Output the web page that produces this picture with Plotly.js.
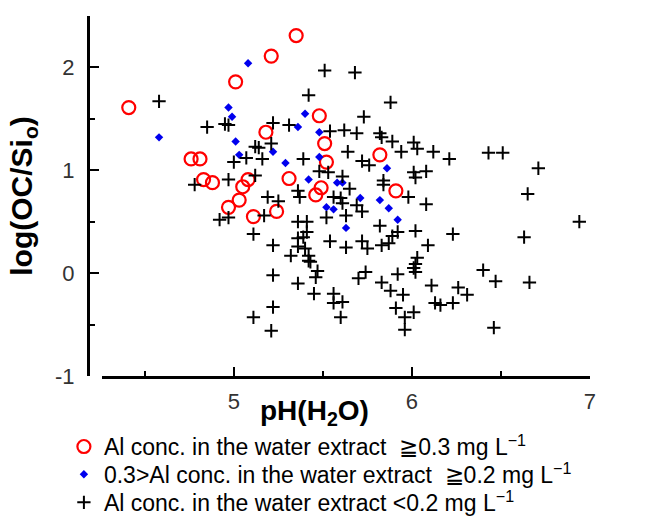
<!DOCTYPE html>
<html>
<head>
<meta charset="utf-8">
<script src="https://cdn.plot.ly/plotly-3.0.1.min.js"></script>
<style>html,body{margin:0;padding:0;background:#fff;}#chart{width:653px;height:516px;}</style>
</head>
<body>
<div id="chart"></div>
<script>
// Al conc. >= 0.3 mg/L (red open circles)
const redPH  = [4.41, 5.35, 5.21, 5.01, 5.48, 5.18, 4.76, 4.81, 4.83, 4.88, 5.08, 5.05, 5.03, 4.97, 5.11, 5.24, 5.31, 5.51, 5.52, 5.49, 5.46, 5.82, 5.91];
const redLog = [1.61, 2.31, 2.11, 1.86, 1.53, 1.37, 1.11, 1.11, 0.91, 0.88, 0.91, 0.84, 0.71, 0.64, 0.55, 0.60, 0.92, 1.26, 1.08, 0.83, 0.76, 1.15, 0.80];

// 0.3 > Al conc. >= 0.2 mg/L (blue diamonds)
const bluePH  = [5.08, 4.58, 4.97, 4.99, 5.01, 5.03, 5.22, 5.29, 5.36, 5.40, 5.48, 5.48, 5.42, 5.52, 5.58, 5.61, 5.56, 5.71, 5.82, 5.87, 5.92, 5.86, 5.63];
const blueLog = [2.04, 1.32, 1.61, 1.52, 1.28, 1.15, 1.18, 1.07, 1.42, 1.55, 1.37, 1.13, 0.91, 0.64, 0.88, 0.88, 0.62, 0.73, 0.71, 0.63, 0.52, 1.02, 0.44];

// Al conc. < 0.2 mg/L (black crosses)
const blackPH = [
  4.58, 4.85, 4.95, 4.97, 5.42, 5.51, 5.68, 5.88, 5.22, 5.31,
  5.12, 5.14, 5.21, 5.00, 5.07, 5.16, 5.39, 4.78, 4.97, 5.12,
  5.19, 5.25, 5.36, 5.37, 4.92, 4.97, 5.17, 5.11, 5.22, 5.36,
  5.41, 5.36, 5.39, 5.41, 5.52, 5.63, 5.48, 5.54, 5.62, 5.69,
  5.73, 5.82, 5.83, 5.89, 6.01, 6.03, 5.64, 5.72, 5.76, 5.94,
  6.12, 6.21, 6.43, 6.51, 6.71, 5.53, 5.61, 5.84, 5.84, 6.01,
  6.02, 6.08, 5.65, 5.56, 5.60, 5.61, 5.69, 5.72, 5.98, 6.08,
  6.65, 5.54, 5.63, 5.72, 5.75, 5.83, 5.87, 5.92, 6.02, 6.09,
  6.23, 6.63, 6.94, 5.82, 5.89, 5.32, 5.36, 5.40, 5.42, 5.43,
  5.47, 5.46, 5.22, 5.36, 5.45, 5.56, 5.56, 5.61, 5.60, 5.22,
  5.11, 5.21, 5.70, 5.74, 5.83, 5.92, 5.88, 5.95, 6.03, 6.02,
  6.01, 6.02, 5.42, 5.91, 5.96, 5.96, 6.01, 6.11, 6.13, 6.16,
  6.23, 6.26, 6.31, 6.40, 6.47, 6.46, 6.66
];
const blackLog = [
  1.67, 1.42, 1.45, 1.44, 1.73, 1.97, 1.95, 1.66, 1.46, 1.44,
  1.23, 1.22, 1.26, 1.08, 1.12, 1.11, 1.11, 0.86, 0.91, 0.95,
  0.74, 0.70, 0.80, 0.74, 0.52, 0.54, 0.56, 0.38, 0.27, 0.50,
  0.50, 0.34, 0.35, 0.40, 0.54, 0.56, 0.99, 1.38, 1.39, 1.36,
  1.52, 1.36, 1.32, 1.28, 1.27, 1.21, 1.18, 1.09, 1.05, 1.18,
  1.18, 1.11, 1.17, 1.17, 1.02, 0.98, 0.94, 0.90, 0.86, 0.98,
  0.93, 0.99, 0.82, 0.74, 0.73, 0.68, 0.66, 0.60, 0.74, 0.67,
  0.77, 0.31, 0.25, 0.31, 0.24, 0.27, 0.29, 0.40, 0.41, 0.27,
  0.38, 0.35, 0.50, 0.46, 0.36, 0.17, 0.26, 0.24, 0.12, 0.11,
  0.02, -0.04, -0.02, -0.10, -0.20, -0.20, -0.29, -0.28, -0.43, -0.33,
  -0.43, -0.56, -0.05, 0.01, -0.09, -0.01, -0.17, -0.21, 0.15, 0.09,
  0.05, 0.01, 0.17, -0.34, -0.43, -0.55, -0.38, -0.12, -0.29, -0.31,
  -0.29, -0.14, -0.21, 0.03, -0.08, -0.53, -0.09
];

const xTickVals = [5, 6, 7];
const yTickVals = [-1, 0, 1, 2];

const legendNames = [
  'Al conc. in the water extract \u00a0\u22670.3 mg L<sup>\u22121</sup>',
  '0.3&gt;Al conc. in the water extract \u00a0\u22670.2 mg L<sup>\u22121</sup>',
  'Al conc. in the water extract &lt;0.2 mg L<sup>\u22121</sup>'
];

const traces = [
  {x: redPH, y: redLog, mode: 'markers', type: 'scatter', name: legendNames[0], legend: 'legend',
   marker: {symbol: 'circle-open', size: 13, color: '#ff0000', line: {width: 2.2, color: '#ff0000'}}},
  {x: bluePH, y: blueLog, mode: 'markers', type: 'scatter', name: legendNames[1], legend: 'legend2',
   marker: {symbol: 'diamond', size: 6.5, color: '#0000ee'}},
  {x: blackPH, y: blackLog, mode: 'markers', type: 'scatter', name: legendNames[2], legend: 'legend3',
   marker: {symbol: 'cross-thin-open', size: 9.5, color: '#000000', line: {width: 2, color: '#000000'}}}
];

const legendBase = {x: -0.048, xanchor: 'left', yanchor: 'middle',
  font: {size: 23, color: '#000'}, bgcolor: 'rgba(0,0,0,0)', itemsizing: 'trace'};

const layout = {
  width: 653, height: 516,
  margin: {l: 88, r: 63, t: 16, b: 140, autoexpand: false},
  paper_bgcolor: '#ffffff', plot_bgcolor: '#ffffff',
  font: {family: 'Liberation Sans, Arial, sans-serif', color: '#000'},
  showlegend: true,
  legend: Object.assign({}, legendBase, {y: -0.196}),
  legend2: Object.assign({}, legendBase, {y: -0.273}),
  legend3: Object.assign({}, legendBase, {y: -0.351}),
  xaxis: {
    domain: [0.028, 1], range: [4.26, 7], showgrid: false, zeroline: false,
    showline: true, linewidth: 3, linecolor: '#000',
    tickmode: 'array', tickvals: xTickVals, ticktext: xTickVals.map(String),
    ticks: 'inside', ticklen: 9, tickwidth: 2, tickcolor: '#000',
    ticklabelstandoff: 4,
    tickfont: {size: 22, color: '#333'},
    minor: {tickmode: 'linear', tick0: 4.5, dtick: 0.5, ticks: 'inside', ticklen: 5, tickwidth: 2, tickcolor: '#000'}
  },
  yaxis: {
    anchor: 'free', position: 0, range: [-1, 2.5], showgrid: false, zeroline: false,
    showline: true, linewidth: 3, linecolor: '#000',
    tickmode: 'array', tickvals: yTickVals, ticktext: yTickVals.map(String),
    ticks: 'inside', ticklen: 9, tickwidth: 2, tickcolor: '#000',
    ticklabelstandoff: 8,
    tickfont: {size: 22, color: '#333'},
    minor: {tickmode: 'linear', tick0: 0, dtick: 0.5, ticks: 'inside', ticklen: 5, tickwidth: 2, tickcolor: '#000'},
    title: {text: '<b>log(OC/Si<sub>o</sub>)</b>', font: {size: 30, color: '#000'}, standoff: 12}
  },
  annotations: [
    {text: '<b>pH(H<sub>2</sub>O)</b>', xref: 'paper', yref: 'paper', x: 0.452, y: -0.1,
     xanchor: 'center', yanchor: 'middle', showarrow: false, font: {size: 28, color: '#000'}}
  ]
};

Plotly.newPlot('chart', traces, layout, {displayModeBar: false, staticPlot: true});
</script>
</body>
</html>
